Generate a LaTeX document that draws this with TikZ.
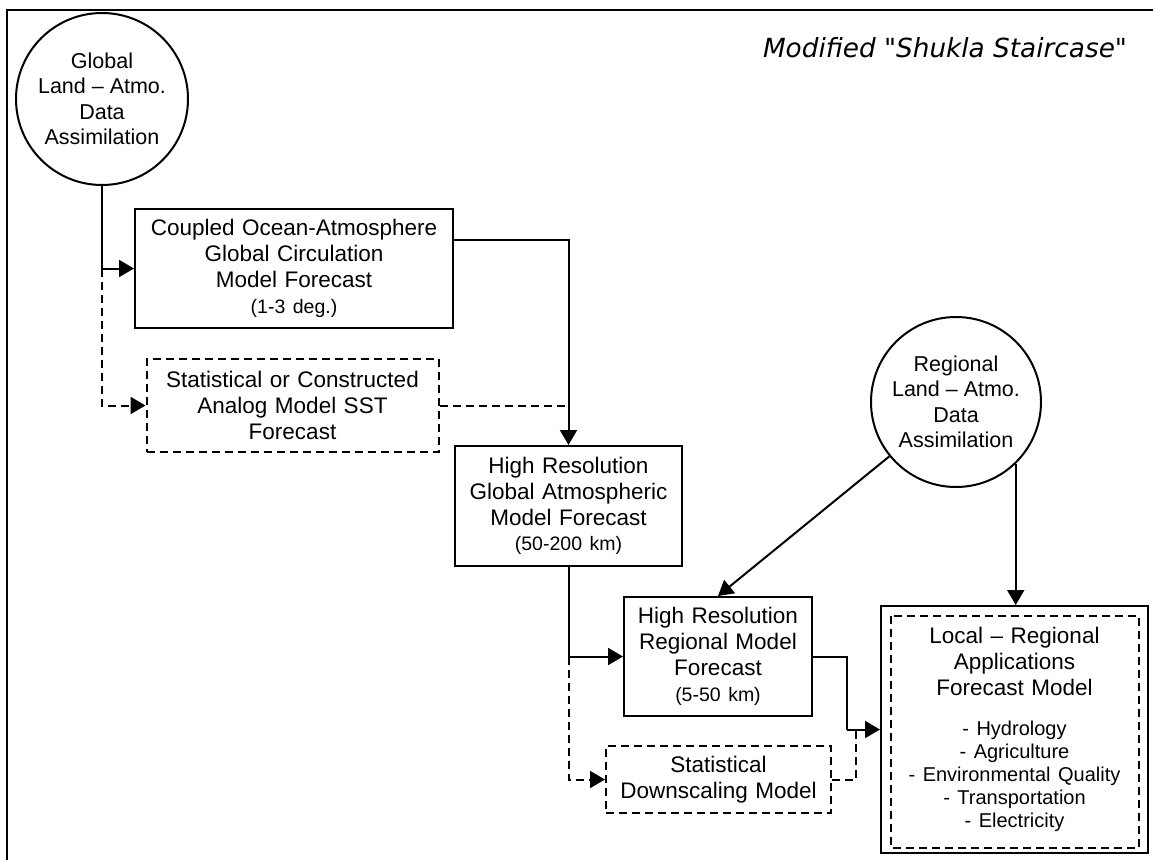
\documentclass[tikz,border=0pt]{standalone}
\usepackage{fontspec}
\setmainfont{Liberation Sans}
\newfontfamily\titlefont{DejaVu Sans}
\usetikzlibrary{arrows.meta}
\newcommand\bxmain{\fontsize{22.5}{26}\selectfont}
\newcommand\bxsmall{\fontsize{19.5}{25.5}\selectfont}
\newcommand\bxlist{\fontsize{20}{23}\selectfont}
\begin{document}
\begin{tikzpicture}[x=1pt,y=-1pt,
  sline/.style={line width=2pt},
  dline/.style={line width=2pt,dash pattern=on 8pt off 5pt},
  conn/.style={sline,-{Triangle[length=15pt,width=17pt]}},
  dconn/.style={dline,-{Triangle[length=15pt,width=17pt]}},
  circ/.style={circle,draw,line width=2pt,inner sep=0pt,align=center,font=\fontsize{21.5}{25.5}\selectfont},
  box/.style={draw,line width=2pt,inner sep=0pt,align=center,font=\bxmain},
  dbox/.style={box,dash pattern=on 8pt off 5pt},
  ttl/.style={anchor=base,font=\titlefont\itshape\fontsize{26.3}{30}\selectfont}
]
\useasboundingbox (0,0) rectangle (1153,859);
\draw[line width=2.6pt] (7,880) -- (7,10) -- (1170,10);

\node[ttl] (title) at (945,58) {Modified "Shukla Staircase"};

\node[circ,minimum size=172pt] (g) at (102,99) {Global\\Land -- Atmo.\\Data\\Assimilation};
\node[circ,minimum size=170pt] (r) at (956,402) {Regional\\Land -- Atmo.\\Data\\Assimilation};

\node[box,text width=318pt,minimum height=119pt] (b1) at (294,268.5)
  {Coupled Ocean-Atmosphere\\Global Circulation\\Model Forecast\par\bxsmall (1-3 deg.)\par};
\node[dbox,text width=292pt,minimum height=93pt] (b2) at (292.5,405.5)
  {Statistical or Constructed\\Analog Model SST\\Forecast\par};
\node[box,text width=227pt,minimum height=120pt] (b3) at (568.5,506)
  {High Resolution\\Global Atmospheric\\Model Forecast\par\bxsmall (50-200 km)\par};
\node[box,text width=188pt,minimum height=119pt] (b4) at (718,656.5)
  {High Resolution\\Regional Model\\Forecast\par\bxsmall (5-50 km)\par};
\node[dbox,text width=225pt,minimum height=67pt] (b5) at (718.5,779.5)
  {Statistical\\Downscaling Model\par};
\node[box,text width=267pt,minimum height=247pt] (b6) at (1014.5,729.5)
  {Local -- Regional\\Applications\\Forecast Model\par\vspace{17pt}\bxlist
   - Hydrology\\- Agriculture\\- Environmental Quality\\- Transportation\\- Electricity\par};
\draw[dline] ([xshift=11pt,yshift=-11pt]b6.north west) rectangle ([xshift=-10pt,yshift=6pt]b6.south east);

\coordinate (j1) at (847,729.5);
\coordinate (j2) at (856,729.5);

\draw[conn] (g.south) |- (b1.west);
\draw[dconn] (g.south |- b1.west) |- (b2.west);
\draw[conn] ([yshift=28.5pt]b1.east) -| (b3.north);
\draw[dline] (b2.east) -- (b2.east -| b3.north);
\draw[conn] (b3.south) |- (b4.west);
\draw[dconn] (b3.south |- b4.west) |- (b5.west);
\draw[sline] (b4.east) -| (j1);
\draw[conn] (j1) -- (b6.west);
\draw[dline] (b5.east) -| (j2);
\draw[conn] (r) -- (b4.north);
\draw[conn] (r.-46) -- (r.-46 |- b6.north);
\end{tikzpicture}
\end{document}
